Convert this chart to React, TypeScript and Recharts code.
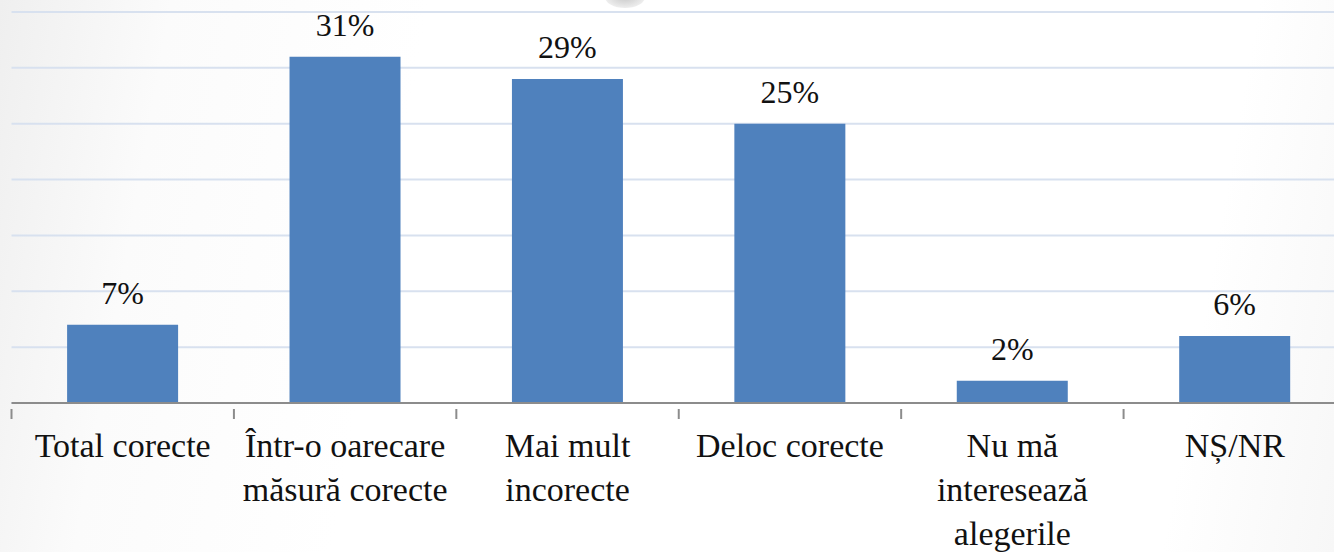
import React from "react";
import { BarChart, Bar, XAxis, YAxis, CartesianGrid, LabelList } from "recharts";

const categories = [
  "Total corecte",
  "Într-o oarecare măsură corecte",
  "Mai mult incorecte",
  "Deloc corecte",
  "Nu mă interesează alegerile",
  "NȘ/NR",
];
const values = [7, 31, 29, 25, 2, 6];
const tickLines: string[][] = [
  ["Total corecte"],
  ["Într-o oarecare", "măsură corecte"],
  ["Mai mult", "incorecte"],
  ["Deloc corecte"],
  ["Nu mă", "interesează", "alegerile"],
  ["NȘ/NR"],
];
const yTicks = [0, 5, 10, 15, 20, 25, 30, 35];

const data = categories.map((c, i) => ({ name: c, value: values[i] }));

const FONT = '"Liberation Serif", "Times New Roman", serif';
const TEXT = "#111111";
const AXIS = "#8c8c8c";

const CatTick = (props: any) => {
  const { x, y, payload, width, visibleTicksCount, index } = props;
  const i = payload.index ?? index;
  const lines = tickLines[i] || [payload.value];
  const band = width / (visibleTicksCount || categories.length);
  const axisY = y;
  return (
    <g>
      <line x1={x - band / 2} x2={x - band / 2} y1={axisY} y2={axisY + 10} stroke={AXIS} strokeWidth={2} />
      {i === categories.length - 1 && (
        <line x1={x + band / 2} x2={x + band / 2} y1={axisY} y2={axisY + 10} stroke={AXIS} strokeWidth={2} />
      )}
      <text x={x} y={axisY} textAnchor="middle" fontFamily={FONT} fontSize={34} fill={TEXT}>
        {lines.map((l, k) => (
          <tspan key={k} x={x} dy={k === 0 ? 48 : 44}>
            {l}
          </tspan>
        ))}
      </text>
    </g>
  );
};

const ValueLabel = (props: any) => {
  const { x, y, width, value } = props;
  return (
    <text x={x + width / 2} y={y - 21} textAnchor="middle" fontFamily={FONT} fontSize={32} fill={TEXT}>
      {value}%
    </text>
  );
};

export default function App() {
  return (
    <div
      style={{
        position: "absolute",
        left: 0,
        top: 0,
        width: 1334,
        height: 552,
        overflow: "hidden",
        background:
          "linear-gradient(100deg, #efefef 0%, #fbfbfb 12%, #ffffff 30%, #ffffff 88%, #f7f7f7 100%)",
      }}
    >
      <div
        style={{
          position: "absolute",
          left: 605,
          top: -14,
          width: 40,
          height: 22,
          borderRadius: "50%",
          background: "radial-gradient(ellipse at center, #c8c8c8 0%, #e8e8e8 60%, rgba(255,255,255,0) 100%)",
        }}
      />
      <BarChart
        width={1346}
        height={552}
        data={data}
        margin={{ top: 12, right: 0, left: 11.5, bottom: 0 }}
        barCategoryGap="25%"
      >
        <CartesianGrid horizontal vertical={false} stroke="#d8e1ef" strokeWidth={2} />
        <YAxis hide domain={[0, 35]} ticks={yTicks} />
        <XAxis
          dataKey="name"
          height={149}
          axisLine={{ stroke: AXIS, strokeWidth: 2 }}
          tickLine={false}
          tickMargin={0}
          interval={0}
          tick={<CatTick />}
        />
        <Bar dataKey="value" fill="#4f81bd" isAnimationActive={false}>
          <LabelList dataKey="value" content={<ValueLabel />} />
        </Bar>
      </BarChart>
    </div>
  );
}
